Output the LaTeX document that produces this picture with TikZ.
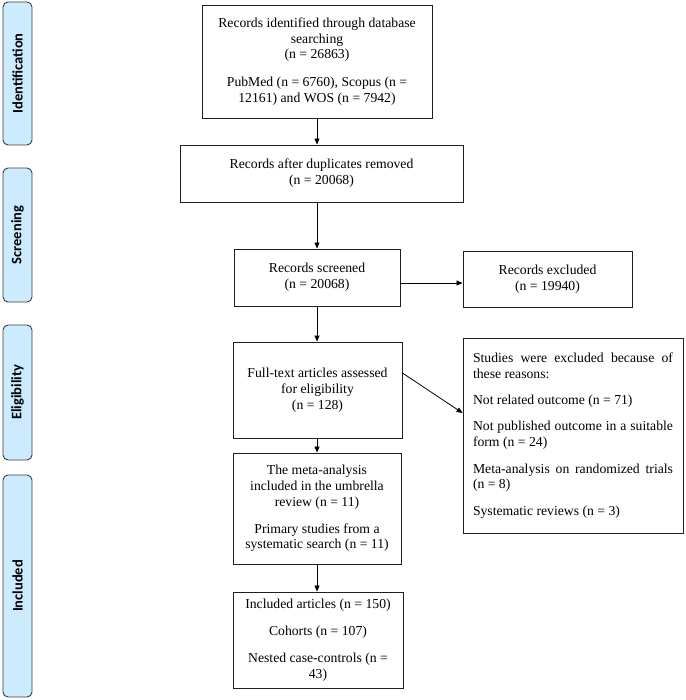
\documentclass[tikz,border=0pt]{standalone}
\usepackage{fontspec}
\setmainfont{Liberation Serif}
\newfontfamily\sidefont{Carlito}
\usetikzlibrary{arrows.meta}
\definecolor{sidefill}{RGB}{204,235,255}
\definecolor{sideline}{RGB}{60,60,60}
\definecolor{boxline}{RGB}{30,30,30}
\begin{document}
\begin{tikzpicture}[x=1pt,y=-1pt,
  sidebar/.style={draw=sideline,fill=sidefill,rounded corners=5pt,line width=0.9pt,inner sep=0pt},
  sidelabel/.style={rotate=90,font=\sidefont\bfseries\fontsize{14.5}{16}\selectfont},
  flowbox/.style={draw=boxline,line width=0.9pt,inner sep=0pt,align=center,
    font=\fontsize{13.7}{15.8}\selectfont},
  conn/.style={draw=black,line width=0.8pt,-{Triangle[length=6pt,width=5pt]}}]
\useasboundingbox (0,0) rectangle (685,700);
% side bars
\node[sidebar,minimum width=29pt,minimum height=143pt] (sb1) at (17.5,73.5) {};
\node[sidelabel] (sl1) at (sb1.center) {Identification};
\node[sidebar,minimum width=29pt,minimum height=134pt] (sb2) at (17.5,235) {};
\node[sidelabel] (sl2) at (sb2.center) {Screening};
\node[sidebar,minimum width=29pt,minimum height=135pt] (sb3) at (17.5,392.5) {};
\node[sidelabel] (sl3) at (sb3.center) {Eligibility};
\node[sidebar,minimum width=29pt,minimum height=222pt] (sb4) at (17.5,586) {};
\node[sidelabel] (sl4) at (sb4.center) {Included};
% boxes
\node[flowbox,minimum width=230pt,minimum height=113pt] (b1) at (317,61.5)
  {Records identified through database\\ searching\\ (n = 26863)\\[12pt] PubMed (n = 6760), Scopus (n =\\ 12161) and WOS (n = 7942)};
\node[flowbox,minimum width=283pt,minimum height=57pt] (b2) at (321.5,173.5)
  {Records after duplicates removed\\ (n = 20068)};
\node[flowbox,minimum width=166pt,minimum height=57pt] (b3) at (317,277.5)
  {Records screened\\ (n = 20068)};
\node[flowbox,minimum width=169pt,minimum height=56pt] (ex) at (547.5,279)
  {Records excluded\\ (n = 19940)};
\node[flowbox,minimum width=169pt,minimum height=96pt] (b4) at (317.5,390)
  {Full-text articles assessed\\ for eligibility\\ (n = 128)};
\node[flowbox,minimum width=220pt,minimum height=195pt,text width=200pt,align=justify] (rs) at (573,435.5)
  {Studies were excluded because of\linebreak these reasons:\par\vspace{10.5pt}
   Not related outcome (n = 71)\par\vspace{10.5pt}
   Not published outcome in a suitable\linebreak form (n = 24)\par\vspace{10.5pt}
   Meta-analysis on randomized trials\linebreak (n = 8)\par\vspace{10.5pt}
   Systematic reviews (n = 3)};
\node[flowbox,minimum width=168pt,minimum height=111pt] (b5) at (317,508.5)
  {The meta-analysis\\ included in the umbrella\\ review (n = 11)\\[11pt] Primary studies from a\\ systematic search (n = 11)};
\node[flowbox,minimum width=170pt,minimum height=96pt] (b6) at (318,640)
  {Included articles (n = 150)\\[11pt] Cohorts (n = 107)\\[11pt] Nested case-controls (n =\\ 43)};
% connectors
\draw[conn] (b1.south -| b3.north) -- (b2.north -| b3.north);
\draw[conn] (b2.south -| b3.north) -- (b3.north);
\draw[conn] ([yshift=-5.5pt]b3.east) -- ([yshift=-5.5pt]b3.east -| ex.west);
\draw[conn] (b3.south) -- (b3.south |- b4.north);
\draw[conn] ([yshift=17pt]b4.east) -- ([yshift=22.5pt]rs.west);
\draw[conn] (b5.north |- b4.south) -- (b5.north);
\draw[conn] (b5.south) -- (b5.south |- b6.north);
\end{tikzpicture}
\end{document}
